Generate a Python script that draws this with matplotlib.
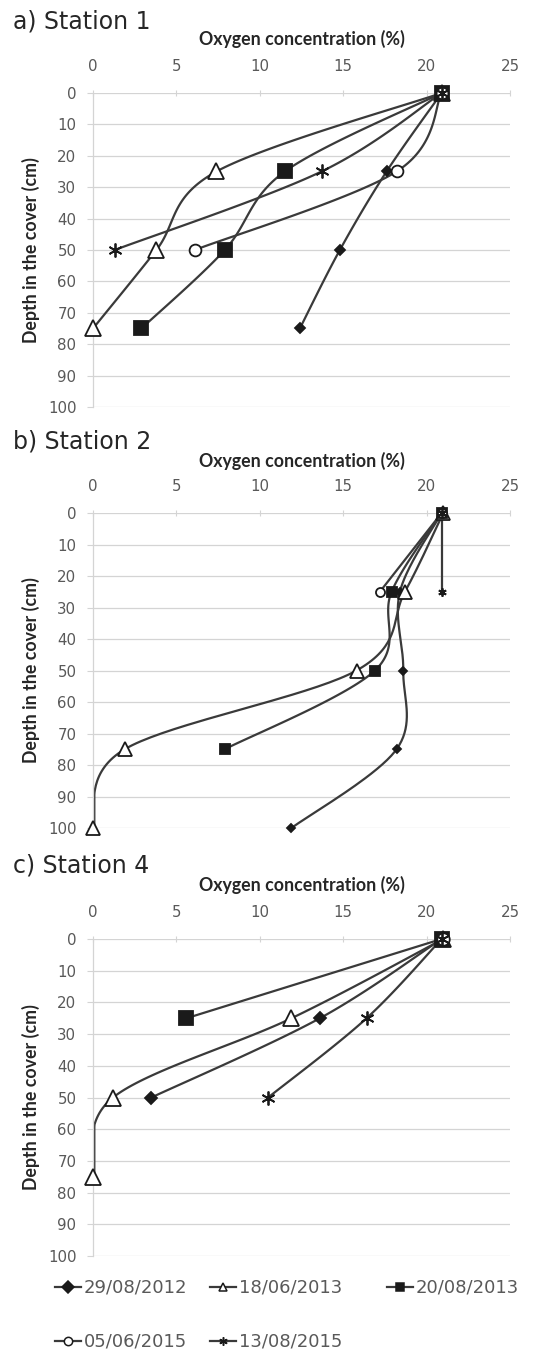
import numpy as np
import matplotlib
matplotlib.use("Agg")
import matplotlib.pyplot as plt
from matplotlib.lines import Line2D

# ---------------- data ----------------
series_labels = ["29/08/2012", "18/06/2013", "20/08/2013", "05/06/2015", "13/08/2015"]
x_ticks = [0, 5, 10, 15, 20, 25]
y_ticks = [0, 10, 20, 30, 40, 50, 60, 70, 80, 90, 100]

# Station 1
s1_depth_2012a = [0, 25, 50, 75]
s1_o2_2012a = [20.9, 17.6, 14.8, 12.4]
s1_depth_2013a = [0, 25, 50, 75]
s1_o2_2013a = [20.9, 7.4, 3.8, 0.0]
s1_depth_2013b = [0, 25, 50, 75]
s1_o2_2013b = [20.9, 11.5, 7.9, 2.9]
s1_depth_2015a = [0, 25, 50]
s1_o2_2015a = [20.9, 18.2, 6.1]
s1_depth_2015b = [0, 25, 50]
s1_o2_2015b = [20.9, 13.7, 1.3]

# Station 2
s2_depth_2012a = [0, 25, 50, 75, 100]
s2_o2_2012a = [20.9, 18.4, 18.6, 18.2, 11.9]
s2_depth_2013a = [0, 25, 50, 75, 100]
s2_o2_2013a = [21.0, 18.7, 15.8, 1.9, 0.0]
s2_depth_2013b = [0, 25, 50, 75]
s2_o2_2013b = [20.9, 17.9, 16.9, 7.9]
s2_depth_2015a = [0, 25]
s2_o2_2015a = [20.9, 17.2]
s2_depth_2015b = [0, 25]
s2_o2_2015b = [20.9, 20.9]

# Station 4
s4_depth_2012a = [0, 25, 50]
s4_o2_2012a = [20.9, 13.6, 3.5]
s4_depth_2013a = [0, 25, 50, 75]
s4_o2_2013a = [21.0, 11.9, 1.2, 0.0]
s4_depth_2013b = [0, 25]
s4_o2_2013b = [20.9, 5.6]
s4_depth_2015a = [0]
s4_o2_2015a = [21.0]
s4_depth_2015b = [0, 25, 50]
s4_o2_2015b = [20.9, 16.4, 10.5]

# ---------------- style ----------------
W, H = 545, 1355
fig = plt.figure(figsize=(W / 100, H / 100), dpi=100)
fig.patch.set_facecolor("white")

LINE_C = "#3a3a3a"
MARK_C = "#1a1a1a"
GRID_C = "#d4d4d4"
TEXT_C = "#595959"
ASTER = (6, 2, 0)

styles = [
    dict(marker="D", mfc=MARK_C, mec=MARK_C),
    dict(marker="^", mfc="white", mec=MARK_C),
    dict(marker="s", mfc=MARK_C, mec=MARK_C),
    dict(marker="o", mfc="white", mec=MARK_C),
    dict(marker=ASTER, mfc=MARK_C, mec=MARK_C),
]

def px_axes(top, bottom, left=93, right=510):
    return [left / W, 1 - bottom / H, (right - left) / W, (bottom - top) / H]

def smooth_plot(ax, xs, ys):
    """Excel-like smoothed line (Catmull-Rom Bezier in display space)."""
    if len(xs) < 2:
        return
    pts = ax.transData.transform(np.column_stack([xs, ys]))
    n = len(pts)
    out = []
    t = np.linspace(0, 1, 40)[:, None]
    for i in range(n - 1):
        p0 = pts[i - 1] if i > 0 else pts[i]
        p1 = pts[i]
        p2 = pts[i + 1]
        p3 = pts[i + 2] if i + 2 < n else pts[i + 1]
        c1 = p1 + (p2 - p0) / 6.0
        c2 = p2 - (p3 - p1) / 6.0
        seg = ((1 - t) ** 3) * p1 + 3 * ((1 - t) ** 2) * t * c1 + 3 * (1 - t) * t ** 2 * c2 + t ** 3 * p2
        out.append(seg if i == 0 else seg[1:])
    curve = ax.transData.inverted().transform(np.vstack(out))
    cx = np.maximum(curve[:, 0], 0.08)  # concentration cannot be negative
    ax.plot(cx, curve[:, 1], color=LINE_C, lw=1.6, solid_capstyle="round",
            zorder=2, clip_on=False)

def setup_axes(ax, title, title_base_px, xlabel_base_px):
    ax.set_xlim(0, 25)
    ax.set_ylim(100, 0)
    ax.set_xticks(x_ticks)
    ax.set_yticks(y_ticks)
    ax.xaxis.tick_top()
    ax.tick_params(axis="x", which="both", direction="inout", length=4, width=0.8,
                   color=GRID_C, labelcolor=TEXT_C, labelsize=10.8, pad=12)
    ax.tick_params(axis="y", direction="out", length=4, width=0.8, color=GRID_C,
                   labelcolor=TEXT_C, labelsize=10.8, pad=8)
    for s in ["right", "bottom", "top"]:
        ax.spines[s].set_visible(False)
    ax.spines["left"].set_color(GRID_C)
    ax.spines["left"].set_linewidth(0.9)
    ax.yaxis.grid(True, color=GRID_C, lw=0.9)
    ax.set_axisbelow(True)
    fig.text(13 / W, 1 - title_base_px / H, title, fontsize=17, color="#262626",
             ha="left", va="baseline", family="DejaVu Sans")
    fig.text(301.5 / W, 1 - xlabel_base_px / H, "Oxygen concentration (%)",
             fontsize=12.8, fontweight="bold", color="#262626", ha="center",
             va="baseline", family=["Lato", "DejaVu Sans"])
    ax.set_ylabel("Depth in the cover (cm)", fontsize=12.8, fontweight="bold",
                  color="#262626", family=["Lato", "DejaVu Sans"], labelpad=6)

def draw_station(ax, depths, o2s, msizes):
    for d, o in zip(depths, o2s):
        smooth_plot(ax, o, d)
    for k, (d, o) in enumerate(zip(depths, o2s)):
        st = styles[k]
        ax.plot(o, d, ls="none", marker=st["marker"], mfc=st["mfc"], mec=st["mec"],
                ms=msizes[k], mew=1.3, zorder=3 + k, clip_on=False)

# Panel a
axA = fig.add_axes(px_axes(93, 407))
setup_axes(axA, "a) Station 1", 29, 45)
draw_station(axA,
             [s1_depth_2012a, s1_depth_2013a, s1_depth_2013b, s1_depth_2015a, s1_depth_2015b],
             [s1_o2_2012a, s1_o2_2013a, s1_o2_2013b, s1_o2_2015a, s1_o2_2015b],
             [5.5, 11, 9.5, 8.5, 10])

# Panel b
axB = fig.add_axes(px_axes(513, 828))
setup_axes(axB, "b) Station 2", 448, 467)
draw_station(axB,
             [s2_depth_2012a, s2_depth_2013a, s2_depth_2013b, s2_depth_2015a, s2_depth_2015b],
             [s2_o2_2012a, s2_o2_2013a, s2_o2_2013b, s2_o2_2015a, s2_o2_2015b],
             [4, 10.5, 6.5, 6.5, 6])

# Panel c
axC = fig.add_axes(px_axes(939, 1256))
setup_axes(axC, "c) Station 4", 873, 891)
draw_station(axC,
             [s4_depth_2012a, s4_depth_2013a, s4_depth_2013b, s4_depth_2015a, s4_depth_2015b],
             [s4_o2_2012a, s4_o2_2013a, s4_o2_2013b, s4_o2_2015a, s4_o2_2015b],
             [6.5, 11, 9.5, 9, 10])

# Legend: one entry per slot, placed like the reference (2 rows: 3 + 2)
leg_x_px = [55, 210, 387, 55, 210]
leg_y_px = [1288, 1288, 1288, 1342, 1342]
for k, lab in enumerate(series_labels):
    st = styles[k]
    h = Line2D([], [], color=LINE_C, lw=1.6, marker=st["marker"],
               mfc=st["mfc"], mec=st["mec"], ms=6, mew=1.1, label=lab)
    leg = fig.legend(handles=[h], loc="center left", frameon=False,
                     bbox_to_anchor=(leg_x_px[k] / W, 1 - leg_y_px[k] / H), fontsize=13,
                     handlelength=1.45, handletextpad=0.15,
                     borderaxespad=0, borderpad=0)
    for t in leg.get_texts():
        t.set_color(TEXT_C)

fig.savefig("out.png", dpi=100, facecolor="white")
